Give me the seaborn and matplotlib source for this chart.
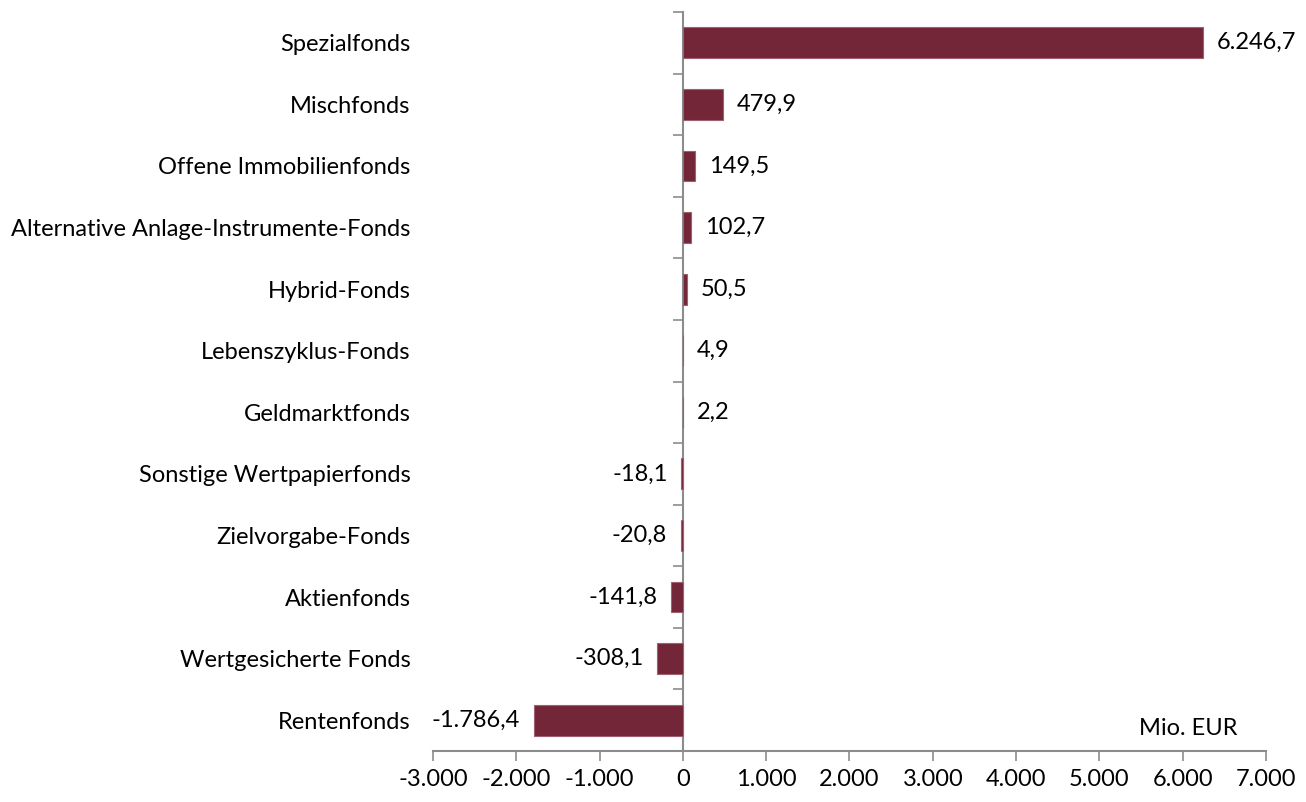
import matplotlib
matplotlib.use("Agg")
import matplotlib.pyplot as plt
import seaborn as sns
import pandas as pd

categories = [
    "Spezialfonds",
    "Mischfonds",
    "Offene Immobilienfonds",
    "Alternative Anlage-Instrumente-Fonds",
    "Hybrid-Fonds",
    "Lebenszyklus-Fonds",
    "Geldmarktfonds",
    "Sonstige Wertpapierfonds",
    "Zielvorgabe-Fonds",
    "Aktienfonds",
    "Wertgesicherte Fonds",
    "Rentenfonds",
]
values = [6246.7, 479.9, 149.5, 102.7, 50.5, 4.9, 2.2, -18.1, -20.8, -141.8, -308.1, -1786.4]
xticks = [-3000, -2000, -1000, 0, 1000, 2000, 3000, 4000, 5000, 6000, 7000]

BAR_COLOR = "#722637"
AXIS_COLOR = "#8c8c8c"
FS = 17


def de_fmt(v, decimals=1):
    s = f"{v:,.{decimals}f}"
    return s.replace(",", "X").replace(".", ",").replace("X", ".")


sns.set_style("white")
plt.rcParams["font.family"] = ["Lato", "DejaVu Sans"]
plt.rcParams["text.color"] = "black"
plt.rcParams["xtick.color"] = "black"
plt.rcParams["ytick.color"] = "black"

df = pd.DataFrame({"category": categories, "value": values})

fig = plt.figure(figsize=(13.06, 8.02), dpi=100)
ax = fig.add_axes([0.3315, 0.0636, 0.6379, 0.9214])

sns.barplot(data=df, x="value", y="category", orient="h", color=BAR_COLOR,
            width=0.5, saturation=1, ax=ax, edgecolor="#a06070", linewidth=0.8)

ax.set_xlim(-3000, 7000)
ax.set_ylim(len(categories) - 0.5, -0.5)
ax.set_xticks(xticks)
ax.set_xticklabels([de_fmt(t, 0) for t in xticks], fontsize=FS)
ax.set_xlabel("")
ax.set_ylabel("")
ax.tick_params(axis="y", left=False, length=0, labelsize=FS, pad=16)
ax.tick_params(axis="x", bottom=True, length=7, width=1.2, color=AXIS_COLOR,
               direction="out", pad=6)

for side in ["top", "right", "left"]:
    ax.spines[side].set_visible(False)
ax.spines["bottom"].set_color(AXIS_COLOR)
ax.spines["bottom"].set_linewidth(1.5)

# vertical axis at zero with ticks between categories
sec = ax.secondary_yaxis(0.3)
sec.spines["left"].set_color(AXIS_COLOR)
sec.spines["left"].set_linewidth(1.5)
sec.set_yticks([i - 0.5 for i in range(len(categories) + 1)])
sec.set_yticklabels([])
sec.tick_params(axis="y", left=True, length=7, width=1.2, color=AXIS_COLOR, direction="out")
sec.set_zorder(0)

for cont in ax.containers:
    ax.bar_label(cont, labels=[de_fmt(v) for v in values], padding=10, fontsize=FS)

ax.text(0.966, 0.031, "Mio. EUR", transform=ax.transAxes, ha="right", va="center",
        fontsize=FS)

fig.savefig("out.png", dpi=100)
